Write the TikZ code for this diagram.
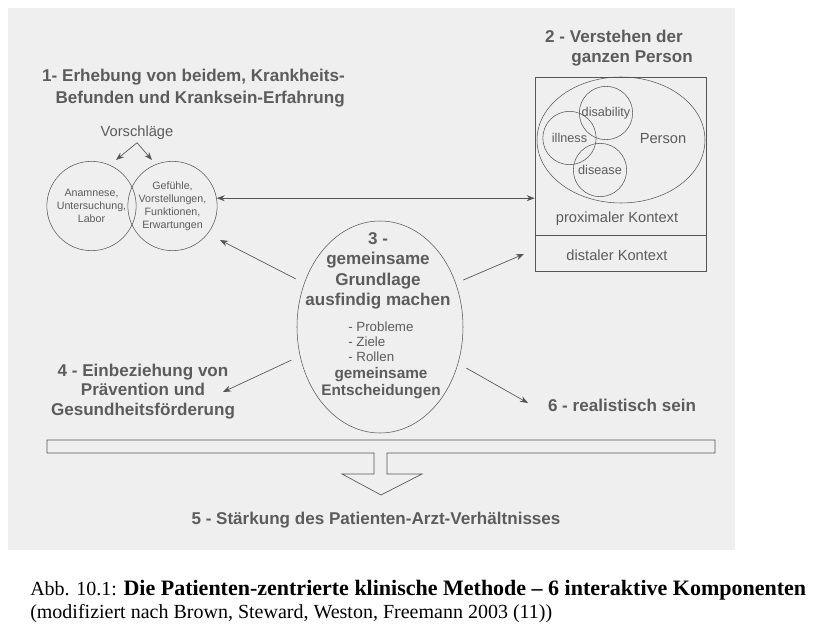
\documentclass[tikz,border=0pt]{standalone}
\usepackage{fontspec}
\setmainfont{Liberation Sans}
\newfontfamily\capfont{Liberation Serif}
\usetikzlibrary{arrows.meta,positioning,shapes.geometric,calc}
\definecolor{scangray}{HTML}{EFEFEF}
\definecolor{inkgray}{HTML}{5C5C5C}
\definecolor{linegray}{HTML}{555555}
\tikzset{
  heading/.style={inner sep=0pt,text=inkgray,font=\fontsize{12.8}{15}\selectfont\bfseries},
  smalltxt/.style={inner sep=0pt,text=inkgray,font=\fontsize{8}{9.75}\selectfont,align=center},
  normtxt/.style={inner sep=0pt,text=inkgray,font=\fontsize{11}{13}\selectfont},
  bigcirc/.style={circle,draw=linegray,minimum size=67pt,inner sep=0pt},
  smallcirc/.style={circle,draw=linegray,minimum size=40pt,inner sep=0pt,text=inkgray,font=\fontsize{9.5}{11}\selectfont},
  ringell/.style={ellipse,draw=linegray,inner sep=0pt},
  arrow/.style={-{Stealth[length=6pt,width=4.5pt]},draw=linegray,line width=0.5pt},
  line/.style={draw=linegray,line width=0.5pt}
}
\begin{document}
\begin{tikzpicture}[x=0.75pt,y=-0.75pt]
  \useasboundingbox (0,0) rectangle (826,639);
  \fill[scangray] (8,8) rectangle (735,550);

  % 1 - Krankheit und Kranksein
  \node[heading,align=right,anchor=east,font=\fontsize{12.8}{17}\selectfont\bfseries] (h1) at (345,88) {1- Erhebung von beidem, Krankheits-\\Befunden und Kranksein-Erfahrung};
  \node[normtxt] (vor) at (137,133) {Vorschläge};
  \node[bigcirc,smalltxt] (cA) at (91.5,206) {Anamnese,\\Untersuchung,\\Labor};
  \node[bigcirc,smalltxt] (cB) at (172.5,206) {Gefühle,\\Vorstellungen,\\Funktionen,\\Erwartungen};
  \coordinate (vA) at (116,160);
  \coordinate (vB) at (152,160);
  \draw[arrow] ([yshift=-2pt]vor.south) -- (vA);
  \draw[arrow] ([yshift=-2pt]vor.south) -- (vB);

  % 2 - ganze Person
  \node[heading,align=right,anchor=east] (h2) at (693,48) {2 - Verstehen der\hspace*{7.5pt}\\ganzen Person};
  \node[draw=linegray,line width=0.5pt,minimum width=128.25pt,minimum height=145.5pt,inner sep=0pt] (ctx) at (620.5,174) {};
  \draw[line] ([yshift=27pt]ctx.south west) -- ([yshift=27pt]ctx.south east);
  \node[ringell,minimum width=126pt,minimum height=94.5pt] (pers) at (621,140) {};
  \node[normtxt] (perstxt) at (663,139) {Person};
  \node[smallcirc] (disab) at (606,113) {disability};
  \node[smallcirc] (illn) at (569.5,138) {illness};
  \node[smallcirc] (disea) at (600,170) {disease};
  \node[normtxt] (prox) at (617,219) {proximaler Kontext};
  \node[normtxt] (dist) at (617,255) {distaler Kontext};
  \draw[line,{Stealth[length=6pt,width=4.5pt]}-{Stealth[length=6pt,width=4.5pt]}] (cB.10) -- (cB.10 -| ctx.west);

  % 3 - gemeinsame Grundlage
  \node[ringell,minimum width=124.5pt,minimum height=159pt] (c3) at (380,327) {};
  \node[heading,align=center,font=\fontsize{12.8}{15.4}\selectfont\bfseries] (t3a) at (378,271) {3 -\\gemeinsame\\Grundlage\\ausfindig machen};
  \node[inner sep=0pt,text=inkgray,align=left,anchor=west,font=\fontsize{10}{11.25}\selectfont] (t3b) at (348,342) {- Probleme\\- Ziele\\- Rollen};
  \node[heading,align=center,font=\fontsize{11.5}{12.75}\selectfont\bfseries] (t3c) at (381,383.5) {gemeinsame\\Entscheidungen};

  % 4, 6, 5
  \node[heading,align=center,font=\fontsize{12.8}{14.6}\selectfont\bfseries] (h4) at (143,391.5) {4 - Einbeziehung von\\Prävention und\\Gesundheitsförderung};
  \node[heading] (h6) at (622,405) {6 - realistisch sein};
  \node[heading] (h5) at (376,520) {5 - Stärkung des Patienten-Arzt-Verhältnisses};

  \coordinate (e1) at (220,240);
  \coordinate (e2) at (524,254);
  \coordinate (e4) at (223,392);
  \coordinate (e6) at (528,403);
  \draw[arrow,shorten <=7pt] (c3.150) -- (e1);
  \draw[arrow,shorten <=6pt] (c3.30) -- (e2);
  \draw[arrow,shorten <=7pt] (c3.200) -- (e4);
  \draw[arrow,shorten <=7pt] (c3.-25) -- (e6);

  % Balken mit Blockpfeil
  \draw[line,line join=miter] (47,440) -- (715,440) -- (715,453) -- (387,453) -- (387,474) -- (422,474) -- (381,495) -- (342,474) -- (374,474) -- (374,453) -- (47,453) -- cycle;

  % Bildunterschrift
  \node[anchor=west,align=left,inner sep=0pt,font=\capfont\fontsize{15}{17.25}\selectfont] (cap) at (30,601.5) {Abb. 10.1: {\fontsize{16.5}{17.25}\selectfont\bfseries Die Patienten-zentrierte klinische Methode – 6 interaktive Komponenten}\\(modifiziert nach Brown, Steward, Weston, Freemann 2003 (11))};
\end{tikzpicture}
\end{document}
